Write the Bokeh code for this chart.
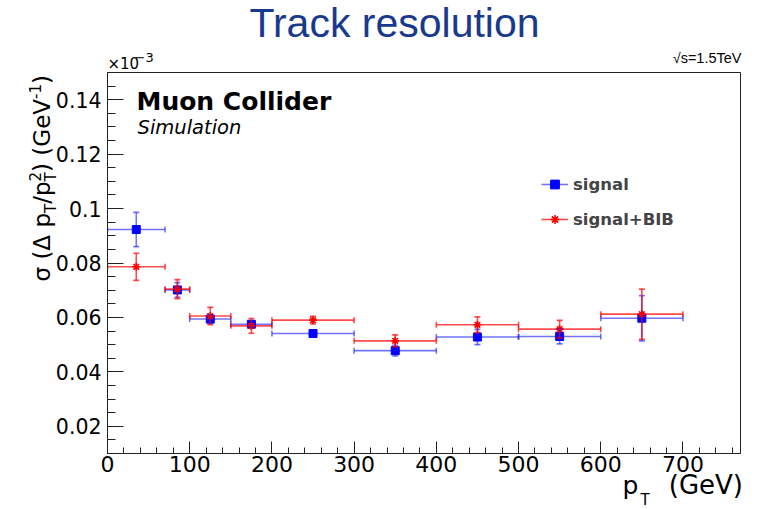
from bokeh.plotting import figure
from bokeh.models import (ColumnDataSource, Whisker, TeeHead, Label, Legend, LegendItem,
                          FixedTicker, Range1d)
from bokeh.embed import file_html
from bokeh.resources import INLINE
import math

# ---------------- data (y in units of 1e-3 GeV^-1) ----------------
bin_lo = [0, 70, 100, 150, 200, 300, 400, 500, 600]
bin_hi = [70, 100, 150, 200, 300, 400, 500, 600, 700]
pt_center = [35, 85, 125, 175, 250, 350, 450, 550, 650]
signal = [0.0923, 0.0701, 0.0594, 0.0575, 0.0541, 0.0478, 0.0528, 0.0530, 0.0597]
signal_err = [0.0063, 0.0027, 0.0016, 0.0010, 0.0007, 0.0020, 0.0028, 0.0027, 0.0083]
signal_bib = [0.0786, 0.0704, 0.0605, 0.0569, 0.0590, 0.0514, 0.0573, 0.0557, 0.0612]
signal_bib_err = [0.0050, 0.0035, 0.0032, 0.0027, 0.0014, 0.0022, 0.0029, 0.0032, 0.0092]

y_ticks = [0.02, 0.04, 0.06, 0.08, 0.1, 0.12, 0.14]
y_tick_labels = ["0.02", "0.04", "0.06", "0.08", "0.1", "0.12", "0.14"]
x_ticks = [0, 100, 200, 300, 400, 500, 600, 700]
x_tick_labels = ["0", "100", "200", "300", "400", "500", "600", "700"]

# ---------------- layout ----------------
W, H = 760, 509
FL, FR, FT, FB = 107, 740, 72, 453
FONT = "DejaVu Sans"

p = figure(width=W, height=H, output_backend="svg", toolbar_location=None,
           x_range=Range1d(0, 770), y_range=Range1d(0.01, 0.15),
           min_border_left=FL, min_border_right=W - FR,
           min_border_top=FT, min_border_bottom=H - FB,
           title=None)
p.background_fill_color = "white"
p.border_fill_color = "white"
p.outline_line_color = "#222222"
p.outline_line_width = 1
p.xgrid.visible = False
p.ygrid.visible = False

def src(y, e):
    return ColumnDataSource(dict(
        x=pt_center, lo=bin_lo, hi=bin_hi, y=y,
        ylo=[a - b for a, b in zip(y, e)], yhi=[a + b for a, b in zip(y, e)]))

s_sig = src(signal, signal_err)
s_bib = src(signal_bib, signal_bib_err)

BLUE, RED = "#0000ff", "#ff0000"
series = [(s_sig, BLUE, 0.55), (s_bib, RED, 0.7)]
hrend = []
for s, col, a in series:
    hr = p.segment(x0="lo", x1="hi", y0="y", y1="y", source=s,
                   line_color=col, line_alpha=a, line_width=1.6)
    hrend.append(hr)
    p.add_layout(Whisker(source=s, base="y", lower="lo", upper="hi", dimension="width",
                         line_alpha=0, level="glyph",
                         lower_head=TeeHead(size=6, line_color=col, line_alpha=a, line_width=1.6),
                         upper_head=TeeHead(size=6, line_color=col, line_alpha=a, line_width=1.6)))
    p.add_layout(Whisker(source=s, base="x", lower="ylo", upper="yhi", dimension="height",
                         line_color=col, line_alpha=a, line_width=1.6, level="glyph",
                         lower_head=TeeHead(size=6, line_color=col, line_alpha=a, line_width=1.6),
                         upper_head=TeeHead(size=6, line_color=col, line_alpha=a, line_width=1.6)))

m_sig = p.scatter("x", "y", source=s_sig, marker="square", size=8,
                  fill_color=BLUE, line_color=BLUE)
m_bib = p.scatter("x", "y", source=s_bib, marker="asterisk", size=8,
                  line_color=RED, line_width=1.6)

# ---------------- axes ----------------
xa = p.xaxis[0]
ya = p.yaxis[0]
xa.ticker = FixedTicker(ticks=x_ticks, minor_ticks=list(range(0, 770, 20)))
ya.ticker = FixedTicker(ticks=y_ticks,
                        minor_ticks=[round(0.01 + 0.005 * i, 4) for i in range(29)])
xa.major_label_overrides = {t: l for t, l in zip(x_ticks, x_tick_labels)}
ya.major_label_overrides = {t: l for t, l in zip(y_ticks, y_tick_labels)}
for ax in (xa, ya):
    ax.axis_line_color = "#222222"
    ax.major_tick_line_color = "#222222"
    ax.minor_tick_line_color = "#222222"
    ax.major_tick_out = 0
    ax.minor_tick_out = 0
    ax.major_label_text_font = FONT
    ax.major_label_text_color = "black"
xa.major_tick_in = 12
xa.minor_tick_in = 6
ya.major_tick_in = 16
ya.minor_tick_in = 8
xa.major_label_text_font_size = "22px"
ya.major_label_text_font_size = "20.5px"
xa.major_label_standoff = 2
ya.major_label_standoff = 6

# ---------------- legend ----------------
legend = Legend(items=[LegendItem(label="signal", renderers=[hrend[0], m_sig]),
                       LegendItem(label="signal+BIB", renderers=[hrend[1], m_bib])],
                location=(434, 223), padding=0, margin=0, spacing=13,
                glyph_width=27, glyph_height=22, label_height=22, label_standoff=5,
                label_text_font=FONT, label_text_font_style="bold",
                label_text_font_size="16.5px", label_text_baseline="middle",
                border_line_alpha=0, background_fill_alpha=0)
p.add_layout(legend)

# ---------------- transparent overlay for texts outside the frame ----------------
ov = figure(width=W, height=H, output_backend="svg", toolbar_location=None,
            x_range=Range1d(0, W), y_range=Range1d(0, H),
            x_axis_type=None, y_axis_type=None, min_border=0, title=None)
ov.grid.visible = False
ov.outline_line_alpha = 0
ov.background_fill_alpha = 0
ov.border_fill_alpha = 0
ov.margin = (-H, 0, 0, 0)

K = 0.37  # rendered baseline sits ~0.37em below the anchor; compensate

def lab(text, cx, cy, size, font=FONT, style="normal", color="black", align="left",
        rotated=False):
    if rotated:
        x, y, ang = cx - K * size, H - cy, math.pi / 2
    else:
        x, y, ang = cx, H - (cy - K * size), 0.0
    ov.add_layout(Label(x=x, y=y, x_units="screen", y_units="screen",
                        text=text, text_font=font, text_font_size=f"{size}px",
                        text_font_style=style, text_color=color, text_align=align,
                        text_baseline="alphabetic", angle=ang))

DV = {"σ": .634, " ": .318, "(": .39, ")": .39, "Δ": .684, "p": .635, "/": .337,
      "T": .611, "2": .636, "G": .775, "e": .615, "V": .684, "-": .361, "1": .636}

def adv(t, size):
    return sum(DV.get(c, .6) for c in t) * size

# title
lab("Track resolution", 394, 38, 41, font="Liberation Sans", color="#193a8c", align="center")
# experiment labels
lab("Muon Collider", 136, 110, 25, style="bold")
lab("Simulation", 137, 134, 19.5, style="italic")
lab("√s=1.5TeV", 741, 63, 14.5, font="Liberation Sans", align="right")
# exponent
lab("×10", 107, 69, 15)
lab("−3", 134, 62, 13)

# y-axis label: σ (Δ p_T/p_T^2) (GeV^-1), rotated
MS, SS = 23, 15
XB, XSUB, XSUP = 50, 56, 40
yc = 281
lab("σ (Δ p", XB, yc, MS, rotated=True); yc -= adv("σ (Δ p", MS)
lab("T", XSUB, yc, SS, rotated=True); yc -= adv("T", SS)
lab("/p", XB, yc, MS, rotated=True); yc -= adv("/p", MS)
lab("2", XSUP, yc, SS, rotated=True)
lab("T", XSUB, yc, SS, rotated=True); yc -= adv("2", SS)
lab(") (GeV", XB, yc, MS, rotated=True); yc -= adv(") (GeV", MS)
lab("-1", XSUP, yc, SS, rotated=True); yc -= adv("-1", SS)
lab(")", XB, yc, MS, rotated=True)

# x-axis label: p_T (GeV)
lab("p", 622, 494, 25)
lab("T", 640, 505, 15)
lab("(GeV)", 742.5, 494, 26, align="right")

open("out.html", "w").write(file_html([p, ov], INLINE))
